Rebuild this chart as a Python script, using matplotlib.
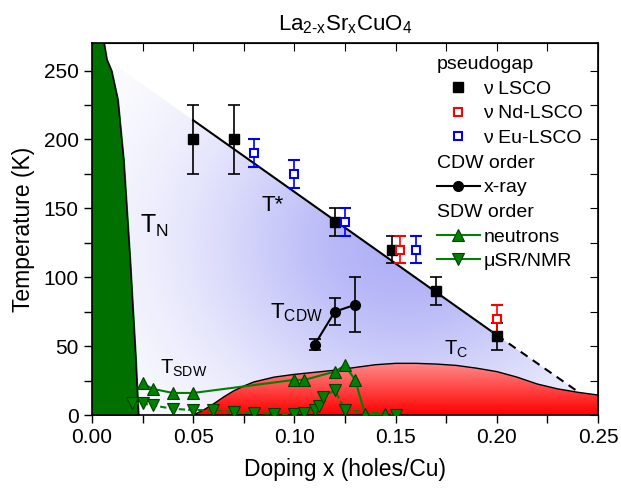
import numpy as np
import matplotlib.pyplot as plt
from matplotlib.patches import Polygon
from matplotlib.lines import Line2D

plt.rcParams['font.family'] = ['Liberation Sans', 'DejaVu Sans']
plt.rcParams['mathtext.fontset'] = 'custom'
plt.rcParams['mathtext.rm'] = 'Liberation Sans'
plt.rcParams['mathtext.it'] = 'Liberation Sans'

# antiferromagnetic (T_N) boundary
afm_x = [0.006, 0.0074, 0.0097, 0.0128, 0.0157, 0.0189, 0.0217, 0.023]
afm_T = [270, 258, 250, 229, 185, 112, 40, 0]

# pseudogap line T*
tstar_x = [0.0, 0.05, 0.20, 0.241]
tstar_T = [266, 214, 58, 16]

# superconducting dome Tc
tc_x = [0.05, 0.055, 0.06, 0.065, 0.07, 0.075, 0.08, 0.09, 0.10, 0.11, 0.12, 0.13, 0.14,
        0.15, 0.16, 0.17, 0.18, 0.19, 0.20, 0.21, 0.22, 0.23, 0.24, 0.25]
tc_T = [0, 3.5, 8, 13, 17.5, 21, 24, 27.5, 29.5, 31, 32.5, 34.5, 36.5,
        37.5, 37.5, 37, 36, 34, 31.5, 27.5, 22.5, 19, 16.5, 14.5]

# pseudogap (nu) data
lsco_x = [0.05, 0.07, 0.12, 0.148, 0.17, 0.20]
lsco_T = [200, 200, 140, 120, 90, 57]
lsco_err = [25, 25, 10, 10, 10, 10]
nd_x = [0.152, 0.20]
nd_T = [120, 70]
nd_err = [10, 10]
eu_x = [0.08, 0.10, 0.125, 0.16]
eu_T = [190, 175, 140, 120]
eu_err = [10, 10, 10, 10]

# CDW order (x-ray)
cdw_x = [0.11, 0.12, 0.13]
cdw_T = [51, 75, 80]
cdw_err = [4, 10, 20]

# SDW order
neu_x = [0.025, 0.03, 0.04, 0.05, 0.10, 0.105, 0.12, 0.125, 0.13, 0.135, 0.145]
neu_T = [23, 19, 16, 16, 25.5, 25.5, 31.5, 36, 25.5, 0.5, 0.5]
musr_x = [0.02, 0.025, 0.03, 0.04, 0.05, 0.06, 0.07, 0.08, 0.09, 0.10, 0.105, 0.11,
          0.112, 0.114, 0.12, 0.125, 0.15]
musr_T = [8.5, 8.5, 7, 4.5, 3.6, 3.6, 2.4, 1.7, 0.8, 0.8, 1.7, 3.6,
          6.5, 13, 18, 3.6, 0.3]

fig = plt.figure(figsize=(6.21, 4.92), dpi=100)
ax = fig.add_axes([0.148, 0.1565, 0.815, 0.756])
ax.set_xlim(0, 0.25)
ax.set_ylim(0, 270)

# blue pseudogap gradient
gx, gy = np.meshgrid(np.linspace(0, 0.25, 400), np.linspace(0, 270, 400))
inten = np.exp(-(((gx - 0.155) / 0.09) ** 2 + ((gy - 125) / 110) ** 2) / 1.3)
blue = np.array([0.69, 0.69, 0.97])
rgb = 1 - inten[..., None] * (1 - blue)
im = ax.imshow(rgb, extent=[0, 0.25, 0, 270], origin='lower', aspect='auto',
               interpolation='bilinear', zorder=0)
clip_blue = Polygon(list(zip(tstar_x, tstar_T)) + [(0.25, 6.6), (0.25, 0), (0, 0)],
                    closed=True, transform=ax.transData)
im.set_clip_path(clip_blue)

# red SC dome gradient
ry = np.linspace(0, 270, 400)[:, None] * np.ones((1, 10))
t = np.clip(ry / 38.0, 0, 1)
rgb_r = np.stack([np.ones_like(t), 0.55 * t, 0.55 * t], axis=-1)
im2 = ax.imshow(rgb_r, extent=[0, 0.25, 0, 270], origin='lower', aspect='auto',
                interpolation='bilinear', zorder=1)
clip_red = Polygon(list(zip(tc_x, tc_T)) + [(0.25, 0), (0.05, 0)], closed=True,
                   transform=ax.transData)
im2.set_clip_path(clip_red)
ax.plot(tc_x, tc_T, color='k', lw=1, zorder=2)

# AFM region
ax.fill_betweenx(afm_T, 0, afm_x, color='#007000', zorder=2)
ax.plot(afm_x, afm_T, color='k', lw=1, zorder=2)

# T* line
ax.plot(tstar_x[1:3], tstar_T[1:3], color='k', lw=1.5, zorder=3)
ax.plot(tstar_x[2:], tstar_T[2:], color='k', lw=1.5, ls=(0, (4, 3)), zorder=3)

# SDW lines
green = '#008000'
ax.plot(neu_x, neu_T, color=green, lw=1.5, zorder=4)
ax.plot(neu_x, neu_T, ls='none', marker='^', ms=8, mfc=green, mec='#004000', mew=0.8, zorder=5)
ax.plot(musr_x, musr_T, color=green, lw=1.5, ls=(0, (3, 1.5)), zorder=4)
ax.plot(musr_x, musr_T, ls='none', marker='v', ms=8, mfc=green, mec='#004000', mew=0.8, zorder=5)

# pseudogap data
ax.errorbar(lsco_x, lsco_T, yerr=lsco_err, fmt='s', ms=7, color='k', ecolor='k',
            elinewidth=1.2, capsize=4, capthick=1.2, zorder=6)
ax.errorbar(nd_x, nd_T, yerr=nd_err, fmt='s', ms=6, mfc='white', mec='red', mew=1.5,
            ecolor='red', elinewidth=1.2, capsize=4, capthick=1.2, zorder=6)
ax.errorbar(eu_x, eu_T, yerr=eu_err, fmt='s', ms=6, mfc='white', mec='blue', mew=1.5,
            ecolor='blue', elinewidth=1.2, capsize=4, capthick=1.2, zorder=6)

# CDW
ax.plot(cdw_x, cdw_T, color='k', lw=1.5, zorder=6)
ax.errorbar(cdw_x, cdw_T, yerr=cdw_err, fmt='o', ms=7, color='k', ecolor='k',
            elinewidth=1.2, capsize=4, capthick=1.2, zorder=6)

# region labels
ax.text(0.024, 132, r'T$_{\rm N}$', fontsize=18, zorder=7)
ax.text(0.084, 148, r'T*', fontsize=16, zorder=7)
ax.text(0.088, 70, r'T$_{\rm CDW}$', fontsize=16, zorder=7)
ax.text(0.0336, 30, r'T$_{\rm SDW}$', fontsize=14.5, zorder=7)
ax.text(0.174, 43.5, r'T$_{\rm C}$', fontsize=14.5, zorder=7)

ax.set_title(r'La$_{\rm 2\text{-}x}$Sr$_{\rm x}$CuO$_{\rm 4}$', fontsize=16, pad=9)
ax.set_xlabel('Doping x (holes/Cu)', fontsize=16.5, labelpad=8)
ax.set_ylabel('Temperature (K)', fontsize=16.5, labelpad=6)

ax.set_xticks(np.arange(0, 0.2501, 0.05))
ax.set_xticks(np.arange(0, 0.2501, 0.025), minor=True)
ax.set_yticks(np.arange(0, 251, 50))
ax.set_yticks(np.arange(0, 271, 25), minor=True)
ax.set_xticklabels(['%.2f' % v for v in np.arange(0, 0.2501, 0.05)])
ax.tick_params(which='both', direction='out', length=6, width=1, labelsize=15,
               top=False, right=False)
ax2 = ax.secondary_xaxis('top')
ax2.set_xticks(np.arange(0, 0.2501, 0.025))
ax2.tick_params(direction='in', length=6, labeltop=False)
ax3 = ax.secondary_yaxis('right')
ax3.set_yticks(np.arange(0, 271, 25))
ax3.tick_params(direction='in', length=6, labelright=False)
for s in ax.spines.values():
    s.set_linewidth(1.2)

# legend
blank = Line2D([], [], ls='none')
handles = [
    blank,
    Line2D([], [], ls='none', marker='s', ms=7, color='k'),
    Line2D([], [], ls='none', marker='s', ms=6, mfc='white', mec='red', mew=1.5),
    Line2D([], [], ls='none', marker='s', ms=6, mfc='white', mec='blue', mew=1.5),
    blank,
    Line2D([], [], color='k', lw=1.5, marker='o', ms=7),
    blank,
    Line2D([], [], color=green, lw=1.5, marker='^', ms=8, mfc=green, mec='#004000', mew=0.8),
    Line2D([], [], color=green, lw=1.5, marker='v', ms=8, mfc=green, mec='#004000', mew=0.8),
]
labels = ['pseudogap', '\u03bd LSCO', '\u03bd Nd-LSCO', '\u03bd Eu-LSCO', 'CDW order',
          'x-ray', 'SDW order', 'neutrons', '\u03bcSR/NMR']
fs = 14
hl, hp = 2.2, 0.2
leg = ax.legend(handles, labels, loc='upper left', bbox_to_anchor=(0.666, 0.987),
                frameon=False, fontsize=fs, handlelength=hl, handletextpad=hp,
                labelspacing=0.36, borderaxespad=0)
leg.set_zorder(10)
shift = (hl + hp) * fs * fig.dpi / 72
for i in (0, 4, 6):
    leg.get_texts()[i].set_x(-shift)

fig.savefig('out.png', dpi=100)
